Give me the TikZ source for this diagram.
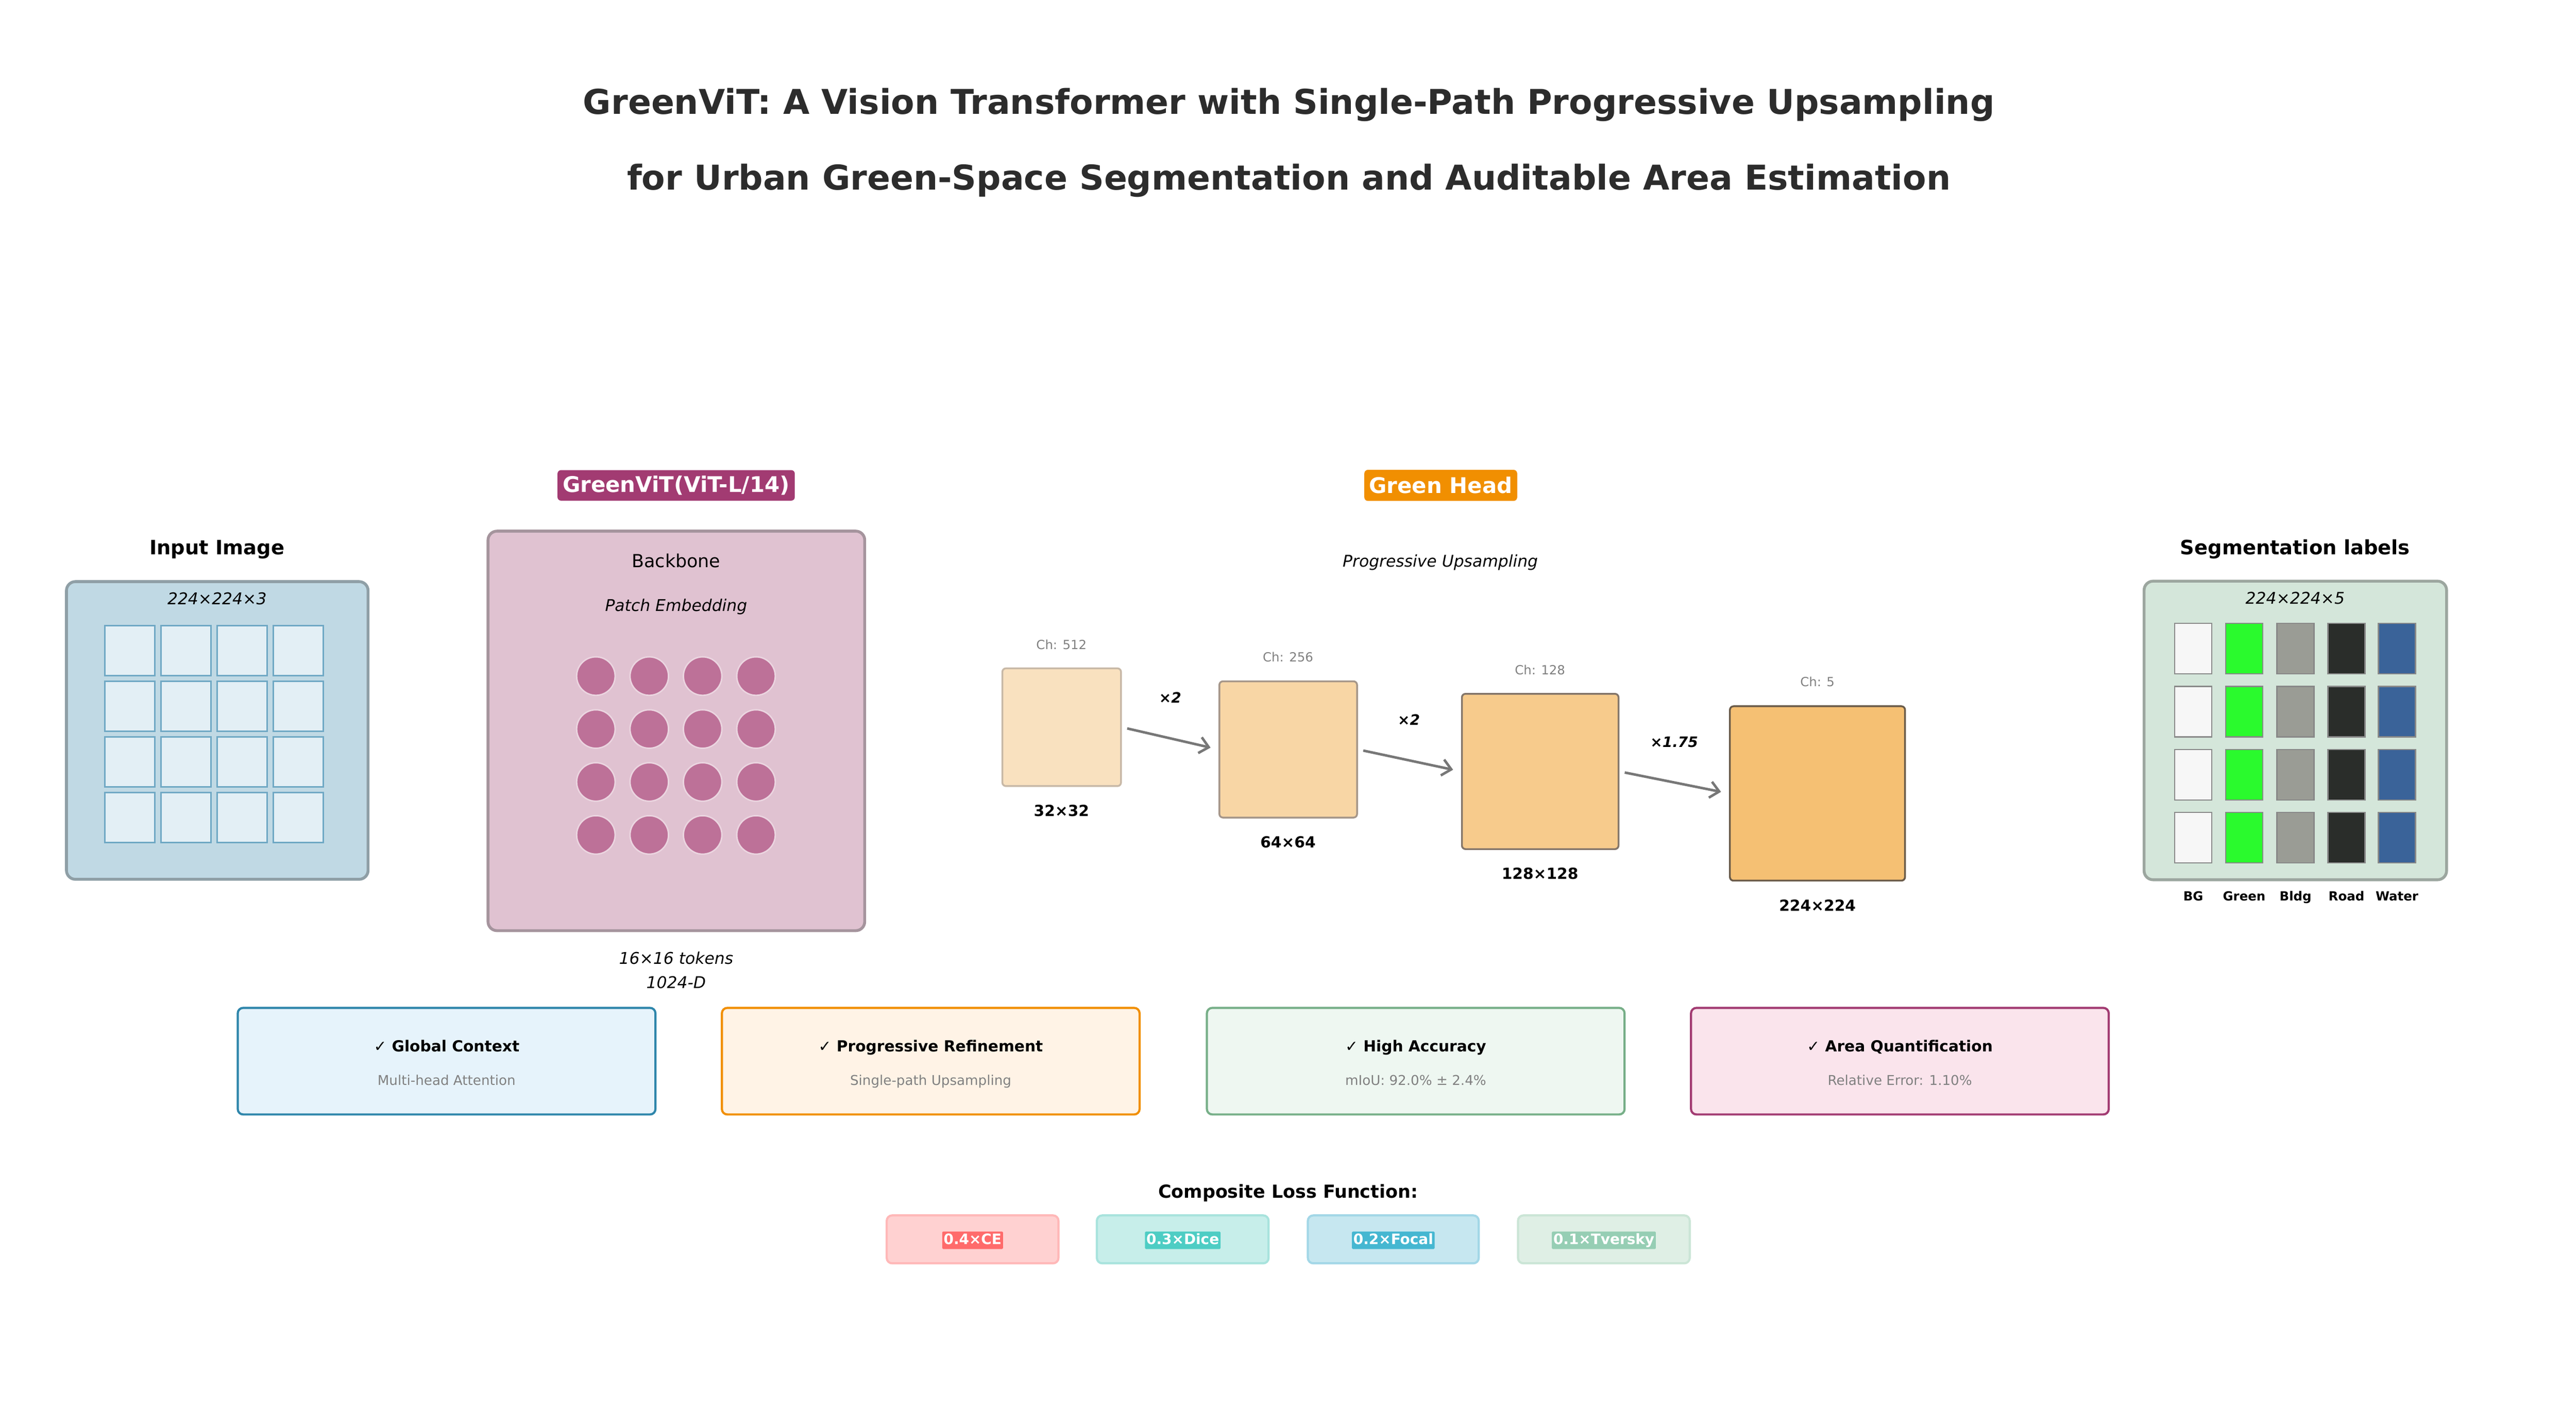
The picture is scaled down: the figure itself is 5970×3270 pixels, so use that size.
\documentclass[tikz,border=0pt]{standalone}
\usepackage{fontspec}
\setmainfont{DejaVu Sans}
\usepackage{tikz}
\usetikzlibrary{arrows.meta}

\definecolor{titlegray}{HTML}{2C2C2C}
\definecolor{vitmag}{HTML}{A23B72}
\definecolor{headorange}{HTML}{F18F01}
\definecolor{inputfill}{HTML}{C0D9E4}
\definecolor{inputline}{HTML}{8F9FA6}
\definecolor{patchfill}{HTML}{E3EFF5}
\definecolor{patchline}{HTML}{6FA8C4}
\definecolor{backfill}{HTML}{E0C2D1}
\definecolor{backline}{HTML}{A5949D}
\definecolor{tokenfill}{HTML}{BD7198}
\definecolor{tokenline}{HTML}{EBD5E0}
\definecolor{segfill}{HTML}{D4E6DA}
\definecolor{segline}{HTML}{9CA69F}
\definecolor{fmapA}{HTML}{F9E1BF}
\definecolor{fmapAline}{HTML}{C8B9A7}
\definecolor{fmapB}{HTML}{F8D6A5}
\definecolor{fmapBline}{HTML}{A6978A}
\definecolor{fmapC}{HTML}{F7CB8C}
\definecolor{fmapCline}{HTML}{84766A}
\definecolor{fmapD}{HTML}{F5C073}
\definecolor{fmapDline}{HTML}{6A5B49}
\definecolor{arrowgray}{HTML}{777777}
\definecolor{chgray}{HTML}{808080}
\definecolor{featblue}{HTML}{E6F3FB}
\definecolor{featblueline}{HTML}{2E86AB}
\definecolor{featorange}{HTML}{FFF3E6}
\definecolor{featgreen}{HTML}{EEF7F1}
\definecolor{featgreenline}{HTML}{77AF88}
\definecolor{featpink}{HTML}{FAE4EC}
\definecolor{lossred}{HTML}{FFD1D1}
\definecolor{lossredline}{HTML}{FFB8B8}
\definecolor{lossredbadge}{HTML}{FF6B6B}
\definecolor{lossteal}{HTML}{C7EEEA}
\definecolor{losstealline}{HTML}{A8E3DD}
\definecolor{losstealbadge}{HTML}{4ECDC4}
\definecolor{lossblue}{HTML}{C6E7F0}
\definecolor{lossblueline}{HTML}{A3D7E7}
\definecolor{lossbluebadge}{HTML}{45B7D1}
\definecolor{lossgreen}{HTML}{DFEFE5}
\definecolor{lossgreenline}{HTML}{CBE5D6}
\definecolor{lossgreenbadge}{HTML}{96CEB4}
\definecolor{segbg}{HTML}{F7F7F7}
\definecolor{seggreen}{HTML}{2AFA2D}
\definecolor{segbldg}{HTML}{9A9C95}
\definecolor{segroad}{HTML}{2A2D2A}
\definecolor{segwater}{HTML}{3A6399}
\definecolor{cellline}{HTML}{888888}

\begin{document}
\begin{tikzpicture}[x=0.24pt,y=-0.24pt,
  panel/.style={rounded corners=5pt,line width=1.6pt},
  patch/.style={fill=patchfill,draw=patchline,line width=0.9pt},
  token/.style={fill=tokenfill,draw=tokenline,line width=0.8pt},
  cell/.style={draw=cellline,line width=0.7pt},
  badge/.style={text=white,font=\fontsize{12}{14}\selectfont\bfseries,rounded corners=2pt,inner sep=0pt},
  fmap/.style={rounded corners=2pt,line width=1pt,inner sep=0pt},
  upsample/.style={draw=arrowgray,line width=1.4pt,-{Straight Barb[length=5pt,width=9pt]},shorten <=3pt,shorten >=4.5pt},
  feat/.style={rounded corners=3pt,line width=1.2pt},
  lossbox/.style={rounded corners=3pt,line width=1.2pt},
  lossbadge/.style={text=white,font=\fontsize{8}{10}\selectfont\bfseries,inner xsep=0.8pt,inner ysep=1.2pt,text height=5.9pt,text depth=1.4pt,rounded corners=0.5pt,anchor=base},
  heading/.style={anchor=base,font=\fontsize{11}{13}\selectfont\bfseries},
  dims/.style={anchor=base,font=\fontsize{9}{11}\selectfont\itshape},
  chlabel/.style={anchor=base,text=chgray,font=\fontsize{7}{9}\selectfont},
  sizelabel/.style={anchor=base,font=\fontsize{8.5}{10}\selectfont\bfseries},
  factor/.style={anchor=base,font=\fontsize{8}{10}\selectfont\bfseries\itshape},
  feattitle/.style={anchor=base,font=\fontsize{8.5}{10}\selectfont\bfseries},
  featsub/.style={anchor=base,text=chgray,font=\fontsize{7.5}{9}\selectfont},
  classlabel/.style={anchor=base,font=\fontsize{7}{9}\selectfont\bfseries}]
\useasboundingbox (0,0) rectangle (5970,3270);

\node[anchor=base,text=titlegray,font=\fontsize{19}{23}\selectfont\bfseries] (title1) at (2987,265) {GreenViT: A Vision Transformer with Single-Path Progressive Upsampling};
\node[anchor=base,text=titlegray,font=\fontsize{19}{23}\selectfont\bfseries] (title2) at (2987,440) {for Urban Green-Space Segmentation and Auditable Area Estimation};

\node[heading] (inputhead) at (503,1285) {Input Image};
\draw[panel,fill=inputfill,draw=inputline] (154,1348) rectangle (853,2038);
\node[dims] (inputdims) at (503,1401) {224×224×3};
\foreach \i in {0,...,3}
  \foreach \j in {0,...,3}
    \draw[patch] ({243+130*\i},{1450+129*\j}) rectangle ++(116,116);

\node[badge,fill=vitmag,minimum width=132pt,minimum height=17pt] (vitbadge) at (1567,1125) {GreenViT(ViT-L/14)};
\draw[panel,fill=backfill,draw=backline] (1131,1231) rectangle (2004,2157);
\node[anchor=base,font=\fontsize{10}{12}\selectfont] (backbone) at (1567,1315) {Backbone};
\node[dims] (patchemb) at (1567,1417) {Patch Embedding};
\foreach \i in {0,...,3}
  \foreach \j in {0,...,3}
    \draw[token] ({1381+123.7*\i},{1567+122.7*\j}) circle[radius=10.7pt];
\node[dims] (tokens) at (1567,2235) {16×16 tokens};
\node[dims] (embdim) at (1567,2291) {1024-D};

\node[badge,fill=headorange,minimum width=85pt,minimum height=17.3pt] (headbadge) at (3339,1125) {Green Head};
\node[dims] (upsampling) at (3338,1314) {Progressive Upsampling};

\node[fmap,fill=fmapA,draw=fmapAline,minimum width=66pt,minimum height=65.5pt] (f32) at (2460.5,1685.5) {};
\node[fmap,fill=fmapB,draw=fmapBline,minimum width=76.6pt,minimum height=75.8pt] (f64) at (2985.5,1737) {};
\node[fmap,fill=fmapC,draw=fmapCline,minimum width=87.1pt,minimum height=86.4pt] (f128) at (3569.5,1788) {};
\node[fmap,fill=fmapD,draw=fmapDline,minimum width=97.4pt,minimum height=97pt] (f224) at (4212,1839) {};

\node[chlabel] (ch512) at (2460,1505) {Ch: 512};
\node[chlabel] (ch256) at (2985,1534) {Ch: 256};
\node[chlabel] (ch128) at (3569,1563) {Ch: 128};
\node[chlabel] (ch5) at (4212,1591) {Ch: 5};
\node[sizelabel] (s32) at (2460,1892) {32×32};
\node[sizelabel] (s64) at (2985,1965) {64×64};
\node[sizelabel] (s128) at (3569,2038) {128×128};
\node[sizelabel] (s224) at (4212,2112) {224×224};

\draw[upsample] (f32.east) -- (f64.west);
\draw[upsample] (f64.east) -- (f128.west);
\draw[upsample] (f128.east) -- (f224.west);
\node[factor] (up1) at (2712,1629) {×2};
\node[factor] (up2) at (3265,1681) {×2};
\node[factor] (up3) at (3880,1732) {×1.75};

\node[heading] (seghead) at (5319,1285) {Segmentation labels};
\draw[panel,fill=segfill,draw=segline] (4969,1347) rectangle (5670,2039);
\node[dims] (segdims) at (5319,1400) {224×224×5};
\foreach \j in {0,...,3} {
  \draw[cell,fill=segbg] (5040,{1445+146*\j}) rectangle ++(86,117);
  \draw[cell,fill=seggreen] (5158,{1445+146*\j}) rectangle ++(86,117);
  \draw[cell,fill=segbldg] (5277,{1445+146*\j}) rectangle ++(86,117);
  \draw[cell,fill=segroad] (5395,{1445+146*\j}) rectangle ++(86,117);
  \draw[cell,fill=segwater] (5512,{1445+146*\j}) rectangle ++(86,117);
}
\node[classlabel] (bg) at (5083,2088) {BG};
\node[classlabel] (green) at (5201,2088) {Green};
\node[classlabel] (bldg) at (5320,2088) {Bldg};
\node[classlabel] (road) at (5438,2088) {Road};
\node[classlabel] (water) at (5555,2088) {Water};

\draw[feat,fill=featblue,draw=featblueline] (551,2336) rectangle (1519,2583);
\node[feattitle] (ctx) at (1035,2437) {✓ Global Context};
\node[featsub] (ctxsub) at (1035,2515) {Multi-head Attention};
\draw[feat,fill=featorange,draw=headorange] (1673,2336) rectangle (2641,2583);
\node[feattitle] (refine) at (2157,2437) {✓ Progressive Refinement};
\node[featsub] (refinesub) at (2157,2515) {Single-path Upsampling};
\draw[feat,fill=featgreen,draw=featgreenline] (2797,2336) rectangle (3765,2583);
\node[feattitle] (acc) at (3281,2437) {✓ High Accuracy};
\node[featsub] (accsub) at (3281,2515) {mIoU: 92.0\% ± 2.4\%};
\draw[feat,fill=featpink,draw=vitmag] (3919,2336) rectangle (4887,2583);
\node[feattitle] (area) at (4403,2437) {✓ Area Quantification};
\node[featsub] (areasub) at (4403,2515) {Relative Error: 1.10\%};

\node[anchor=base,font=\fontsize{10}{12}\selectfont\bfseries] (losshead) at (2985,2777) {Composite Loss Function:};
\draw[lossbox,fill=lossred,draw=lossredline] (2055,2817) rectangle (2453,2928);
\draw[lossbox,fill=lossteal,draw=losstealline] (2542,2817) rectangle (2940,2928);
\draw[lossbox,fill=lossblue,draw=lossblueline] (3031,2817) rectangle (3427,2928);
\draw[lossbox,fill=lossgreen,draw=lossgreenline] (3518,2817) rectangle (3916,2928);
\node[lossbadge,fill=lossredbadge] (ce) at (2254,2884) {0.4×CE};
\node[lossbadge,fill=losstealbadge] (dice) at (2741,2884) {0.3×Dice};
\node[lossbadge,fill=lossbluebadge] (focal) at (3229,2884) {0.2×Focal};
\node[lossbadge,fill=lossgreenbadge] (tversky) at (3717,2884) {0.1×Tversky};
\end{tikzpicture}
\end{document}
